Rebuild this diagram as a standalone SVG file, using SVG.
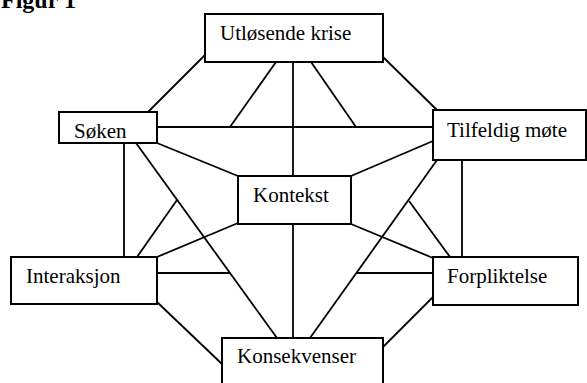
<svg xmlns="http://www.w3.org/2000/svg" width="587" height="383" viewBox="0 0 587 383">
<style>
.box{fill:#fff;stroke:#000;stroke-width:2}
.lbl{font-family:"Liberation Serif","Times New Roman","DejaVu Serif",serif;font-size:21px;fill:#000}
.ttl{font-family:"Liberation Serif","Times New Roman","DejaVu Serif",serif;font-size:24px;font-weight:bold;fill:#000}
#connectors line{stroke:#000;stroke-width:1.8}
</style>
<defs>
<clipPath id="sokClip"><rect x="60" y="124" width="96" height="18"/></clipPath>
</defs>
<rect width="587" height="383" fill="#fff"/>
<text class="ttl" x="1" y="8">Figur 1</text>
<g id="connectors">
<line x1="205" y1="55" x2="148" y2="112"/>
<line x1="276" y1="62" x2="230" y2="127"/>
<line x1="293" y1="62" x2="293" y2="176"/>
<line x1="311" y1="62" x2="356" y2="127"/>
<line x1="383" y1="57" x2="437" y2="110"/>
<line x1="157" y1="127" x2="433" y2="127"/>
<line x1="157" y1="143" x2="238" y2="176"/>
<line x1="124" y1="143" x2="124" y2="257"/>
<line x1="136" y1="143" x2="277" y2="338"/>
<line x1="137" y1="257" x2="177" y2="200"/>
<line x1="157" y1="257" x2="238" y2="223"/>
<line x1="157" y1="273" x2="230" y2="273"/>
<line x1="157" y1="302" x2="222" y2="364"/>
<line x1="293" y1="224" x2="293" y2="338"/>
<line x1="351" y1="176" x2="433" y2="141"/>
<line x1="437" y1="160" x2="310" y2="338"/>
<line x1="462" y1="160" x2="462" y2="257"/>
<line x1="409" y1="201" x2="450" y2="257"/>
<line x1="351" y1="224" x2="433" y2="258"/>
<line x1="357" y1="273" x2="433" y2="273"/>
<line x1="433" y1="297" x2="383" y2="347"/>
</g>
<g id="utlosende">
<rect class="box" x="205" y="14" width="178" height="48"/>
<text class="lbl" x="220" y="40">Utløsende krise</text>
</g>
<g id="soken">
<rect class="box" x="59" y="112" width="98" height="31"/>
<text class="lbl" x="74" y="138" clip-path="url(#sokClip)">Søken</text>
</g>
<g id="tilfeldig">
<rect class="box" x="433" y="110" width="153" height="50"/>
<text class="lbl" x="447" y="137">Tilfeldig møte</text>
</g>
<g id="kontekst">
<rect class="box" x="238" y="176" width="113" height="48"/>
<text class="lbl" x="253" y="202">Kontekst</text>
</g>
<g id="interaksjon">
<rect class="box" x="11" y="257" width="146" height="47"/>
<text class="lbl" x="26" y="283">Interaksjon</text>
</g>
<g id="forpliktelse">
<rect class="box" x="433" y="257" width="145" height="48"/>
<text class="lbl" x="447" y="283">Forpliktelse</text>
</g>
<g id="konsekvenser">
<rect class="box" x="222" y="338" width="161" height="47"/>
<text class="lbl" x="237" y="363">Konsekvenser</text>
</g>
</svg>
